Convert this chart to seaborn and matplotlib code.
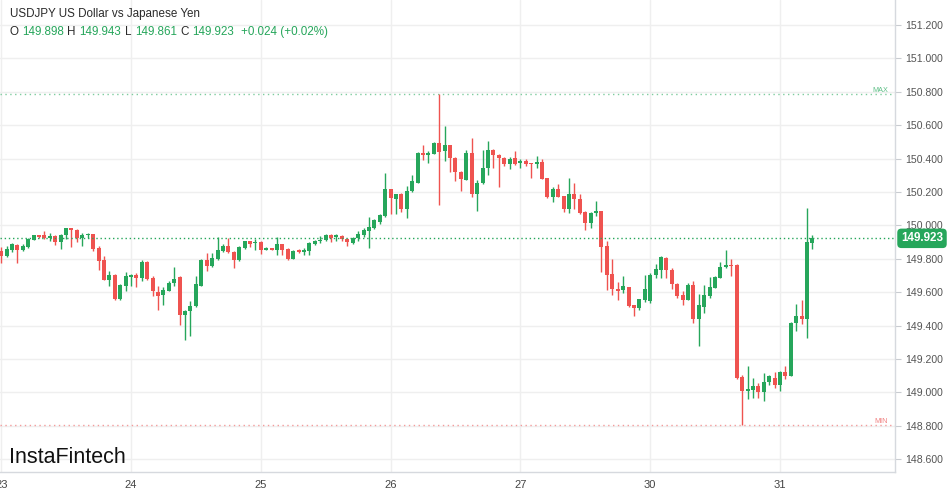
import numpy as np
import pandas as pd
import matplotlib
matplotlib.use("Agg")
import matplotlib.pyplot as plt
import matplotlib.transforms as mtransforms
import seaborn as sns

# ---------------- data (hourly USDJPY candles) ----------------
opens = [149.85, 149.82, 149.856, 149.886, 149.852, 149.872, 149.916, 149.94, 149.94, 149.928,
         149.936, 149.902, 149.94, 149.982, 149.972, 149.924, 149.944, 149.946, 149.866, 149.792,
         149.672, 149.706, 149.56, 149.64, 149.692, 149.702, 149.686, 149.782, 149.684, 149.602,
         149.582, 149.61, 149.656, 149.692, 149.462, 149.486, 149.516, 149.64, 149.796, 149.756,
         149.8, 149.85, 149.876, 149.842, 149.792, 149.866, 149.906, 149.894, 149.9, 149.856,
         149.866, 149.856, 149.89, 149.86, 149.802, 149.852, 149.842, 149.846, 149.892, 149.906,
         149.912, 149.94, 149.934, 149.936, 149.922, 149.896, 149.926, 149.94, 149.966, 149.986,
         150.02, 150.056, 150.216, 150.16, 150.186, 150.096, 150.204, 150.256, 150.434, 150.42,
         150.43, 150.496, 150.444, 150.48, 150.406, 150.322, 150.272, 150.436, 150.186, 150.252,
         150.346, 150.452, 150.42, 150.406, 150.366, 150.402, 150.372, 150.386, 150.376, 150.366,
         150.382, 150.282, 150.17, 150.22, 150.176, 150.1, 150.19, 150.156, 150.08, 150.016,
         150.072, 150.086, 149.876, 149.71, 149.616, 149.612, 149.63, 149.522, 149.506, 149.556,
         149.55, 149.702, 149.732, 149.806, 149.732, 149.65, 149.582, 149.554, 149.646, 149.442,
         149.51, 149.576, 149.626, 149.686, 149.752, 149.766, 149.766, 149.09, 149.006, 149.016,
         149.04, 149.0, 149.06, 149.086, 149.046, 149.12, 149.096, 149.416, 149.456, 149.442,
         149.898]
highs = [149.87, 149.876, 149.896, 149.89, 149.89, 149.926, 149.944, 149.944, 149.968, 149.952,
         149.94, 149.946, 149.986, 149.986, 149.976, 149.956, 149.952, 149.95, 149.876, 149.816,
         149.726, 149.712, 149.648, 149.722, 149.71, 149.716, 149.796, 149.79, 149.696, 149.636,
         149.632, 149.666, 149.752, 149.696, 149.492, 149.546, 149.696, 149.8, 149.836, 149.836,
         149.93, 149.89, 149.926, 149.846, 149.876, 149.91, 149.91, 149.92, 149.906, 149.872,
         149.868, 149.93, 149.89, 149.866, 149.852, 149.862, 149.866, 149.902, 149.916, 149.936,
         149.946, 149.946, 149.946, 149.94, 149.926, 149.93, 149.966, 149.986, 150.05, 150.04,
         150.07, 150.312, 150.216, 150.19, 150.192, 150.236, 150.3, 150.44, 150.48, 150.446,
         150.5, 150.785, 150.596, 150.48, 150.41, 150.326, 150.452, 150.526, 150.272, 150.452,
         150.506, 150.456, 150.426, 150.41, 150.41, 150.446, 150.396, 150.396, 150.376, 150.416,
         150.396, 150.286, 150.232, 150.25, 150.176, 150.286, 150.252, 150.186, 150.086, 150.08,
         150.146, 150.086, 149.906, 149.802, 149.662, 149.7, 149.63, 149.526, 149.56, 149.706,
         149.716, 149.77, 149.816, 149.81, 149.746, 149.656, 149.606, 149.656, 149.666, 149.59,
         149.642, 149.69, 149.696, 149.78, 149.856, 149.802, 149.77, 149.106, 149.16, 149.086,
         149.056, 149.116, 149.106, 149.122, 149.126, 149.16, 149.42, 149.53, 149.556, 150.106,
         149.943]
lows = [149.776, 149.81, 149.844, 149.776, 149.845, 149.866, 149.912, 149.928, 149.92, 149.908,
        149.886, 149.862, 149.92, 149.87, 149.9, 149.876, 149.928, 149.85, 149.736, 149.672,
        149.64, 149.556, 149.556, 149.606, 149.636, 149.632, 149.67, 149.676, 149.576, 149.496,
        149.526, 149.606, 149.636, 149.406, 149.316, 149.336, 149.512, 149.636, 149.726, 149.75,
        149.796, 149.84, 149.836, 149.746, 149.79, 149.862, 149.872, 149.856, 149.832, 149.852,
        149.852, 149.826, 149.826, 149.796, 149.8, 149.836, 149.822, 149.822, 149.886, 149.896,
        149.906, 149.902, 149.91, 149.91, 149.88, 149.89, 149.906, 149.93, 149.866, 149.98,
        150.01, 150.05, 150.066, 150.066, 150.082, 150.042, 150.2, 150.252, 150.392, 150.376,
        150.426, 150.122, 150.386, 150.322, 150.266, 150.206, 150.27, 150.172, 150.086, 150.246,
        150.3, 150.342, 150.232, 150.356, 150.336, 150.36, 150.346, 150.356, 150.286, 150.346,
        150.276, 150.162, 150.142, 150.172, 150.08, 150.076, 150.096, 150.066, 149.972, 149.982,
        150.056, 149.722, 149.612, 149.586, 149.552, 149.596, 149.512, 149.46, 149.496, 149.54,
        149.536, 149.686, 149.686, 149.686, 149.62, 149.566, 149.526, 149.554, 149.416, 149.28,
        149.476, 149.566, 149.626, 149.686, 149.746, 149.696, 149.08, 148.805, 148.962, 148.966,
        148.966, 148.95, 149.046, 149.026, 149.01, 149.08, 149.096, 149.366, 149.41, 149.326,
        149.861]
closes = [149.82, 149.862, 149.89, 149.856, 149.88, 149.92, 149.94, 149.93, 149.928, 149.932,
          149.902, 149.942, 149.982, 149.97, 149.926, 149.942, 149.948, 149.862, 149.79, 149.676,
          149.702, 149.56, 149.646, 149.696, 149.704, 149.684, 149.782, 149.68, 149.61, 149.58,
          149.612, 149.656, 149.682, 149.462, 149.488, 149.52, 149.652, 149.796, 149.756, 149.806,
          149.856, 149.876, 149.84, 149.792, 149.87, 149.906, 149.89, 149.902, 149.856, 149.866,
          149.856, 149.89, 149.856, 149.802, 149.85, 149.844, 149.856, 149.896, 149.91, 149.916,
          149.94, 149.926, 149.938, 149.92, 149.902, 149.926, 149.946, 149.97, 149.99, 150.03,
          150.064, 150.216, 150.166, 150.186, 150.096, 150.204, 150.266, 150.436, 150.42, 150.434,
          150.496, 150.442, 150.482, 150.402, 150.322, 150.276, 150.436, 150.19, 150.256, 150.346,
          150.452, 150.42, 150.402, 150.37, 150.396, 150.37, 150.386, 150.37, 150.366, 150.382,
          150.28, 150.17, 150.22, 150.172, 150.1, 150.19, 150.156, 150.076, 150.016, 150.076,
          150.086, 149.872, 149.706, 149.62, 149.61, 149.636, 149.516, 149.506, 149.56, 149.622,
          149.704, 149.74, 149.81, 149.732, 149.65, 149.58, 149.554, 149.646, 149.442, 149.526,
          149.586, 149.632, 149.69, 149.752, 149.766, 149.756, 149.086, 149.01, 149.02, 149.04,
          149.0, 149.06, 149.096, 149.046, 149.12, 149.096, 149.416, 149.456, 149.442, 149.9,
          149.923]

day_labels = ["23", "24", "25", "26", "27", "30", "31"]
price_ticks = [148.6, 148.8, 149.0, 149.2, 149.4, 149.6, 149.8, 150.0, 150.2, 150.4, 150.6, 150.8, 151.0, 151.2]
title_text = "USDJPY US Dollar vs Japanese Yen"
change_text = "+0.024 (+0.02%)"
brand_text = "InstaFintech"

# ---------------- style ----------------
sns.set_theme(style="white")
plt.rcParams["font.family"] = ["Liberation Sans", "DejaVu Sans"]

GREEN = "#26a65b"
RED = "#ef5350"
GRID = "#efefef"
SPINE = "#d6d9de"

W, H = 949, 494
fig = plt.figure(figsize=(W / 100, H / 100), dpi=100)
ax = fig.add_axes([0, 22 / H, 895 / W, 472 / H])

df = pd.DataFrame({"open": opens, "high": highs, "low": lows, "close": closes})
df["idx"] = np.arange(len(df))
up = df["close"] >= df["open"]
colors = np.where(up, GREEN, RED)

# wicks
ax.vlines(df["idx"], df["low"], df["high"], colors=colors, linewidth=1.0, zorder=3)
# bodies
body_low = np.minimum(df["open"], df["close"])
body_h = np.maximum(np.abs(df["close"] - df["open"]), 0.007)
ax.bar(df["idx"], body_h, bottom=body_low, width=0.74, color=colors, linewidth=0, zorder=4)

ax.set_xlim(-0.22, 165.27)
ax.set_ylim(148.524, 151.35)

# grid
ax.set_yticks(price_ticks)
ax.set_yticklabels([f"{t:.3f}" for t in price_ticks])
ax.set_xticks([24 * k for k in range(len(day_labels))])
ax.set_xticklabels(day_labels)
ax.grid(True, color=GRID, linewidth=1.0, zorder=0)
ax.set_axisbelow(True)

ax.yaxis.tick_right()
ax.tick_params(axis="y", which="both", right=True, left=False, length=4, width=0.8,
               color="#c9ccd1", labelsize=7.6, labelcolor="#555555", pad=3)
ax.tick_params(axis="x", bottom=False, length=0, labelsize=8, labelcolor="#444444", pad=6)

for s in ["top", "left"]:
    ax.spines[s].set_visible(False)
for s in ["right", "bottom"]:
    ax.spines[s].set_color(SPINE)
    ax.spines[s].set_linewidth(1.0)

# reference lines
last_close = closes[-1]
hi = max(highs)
lo = min(lows)
ax.axhline(last_close, color=GREEN, linestyle=(0, (1, 2)), linewidth=1.0, zorder=5)
ax.axhline(hi, color="#7dcc9e", linestyle=(0, (1, 2.5)), linewidth=1.0, zorder=2)
ax.axhline(lo, color="#f39b9b", linestyle=(0, (1, 2.5)), linewidth=1.0, zorder=2)
trans = mtransforms.blended_transform_factory(ax.transAxes, ax.transData)
ax.text(0.992, hi, "MAX", transform=trans, ha="right", va="bottom", fontsize=5.2,
        color="#5cbf85")
ax.text(0.992, lo, "MIN", transform=trans, ha="right", va="bottom", fontsize=5.2,
        color="#f08080")

# last price label box
ax.text(1.0 + 27 / 895, last_close, f"{last_close:.3f}", transform=trans, ha="center",
        va="center", fontsize=8.4, fontweight="bold", color="white", clip_on=False, zorder=10,
        bbox=dict(boxstyle="round,pad=0.32,rounding_size=0.35", facecolor=GREEN,
                  edgecolor="none"))

# header
def fx(px):
    return px / W

def fy(py):
    return 1 - py / H

fig.text(fx(10), fy(14), title_text, fontsize=8.4, color="#2b2b2b", ha="left", va="center")
o_, h_, l_, c_ = opens[-1], highs[-1], lows[-1], closes[-1]
pieces = [
    (10, "O", "#2b2b2b"), (22, f"{o_:.3f}", GREEN),
    (67, "H", "#2b2b2b"), (79, f"{h_:.3f}", GREEN),
    (125, "L", "#2b2b2b"), (135, f"{l_:.3f}", GREEN),
    (180, "C", "#2b2b2b"), (192, f"{c_:.3f}", GREEN),
    (241, change_text, GREEN),
]
for px, txt, col in pieces:
    fig.text(fx(px), fy(32), txt, fontsize=8.4, color=col, ha="left", va="center")

# brand
fig.text(fx(9), fy(457), brand_text, fontsize=15.5, color="#111111", ha="left",
         va="center")

fig.savefig("out.png", dpi=100, facecolor="white")
